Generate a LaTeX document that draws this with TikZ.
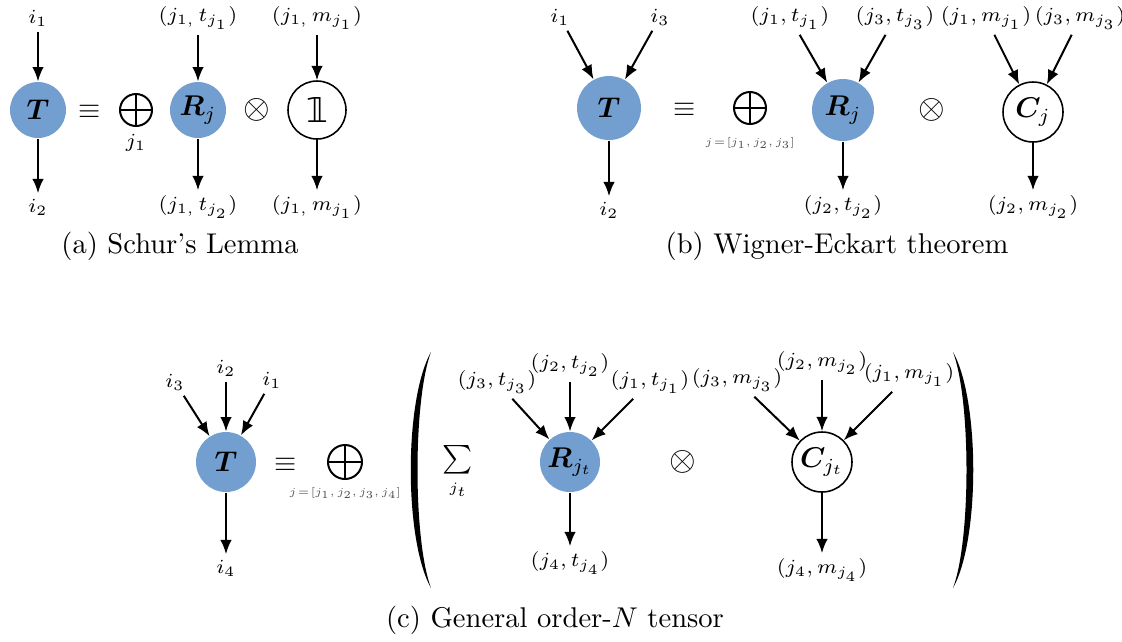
\documentclass[tikz,border=0pt]{standalone}
\usepackage{amsmath,amssymb,bm}
\usepackage{fontspec}
\newfontfamily\dvsans{DejaVu Sans}
\usetikzlibrary{arrows.meta}
\definecolor{blueT}{RGB}{114,159,207}
\tikzset{
  blob/.style={circle, fill=blueT, inner sep=0pt, minimum size=#1},
  wblob/.style={circle, draw, line width=0.55pt, fill=white, inner sep=0pt, minimum size=#1},
  lbl/.style={inner sep=1.8pt, font=\scriptsize},
  tinylbl/.style={inner sep=1pt, font=\tiny, text=black!70},
  arr/.style={-{Latex[length=5pt,width=4pt]}, line width=0.7pt},
  oplusnode/.style={circle, draw, line width=0.7pt, minimum size=#1, inner sep=0pt,
    path picture={\draw[line width=0.7pt] (path picture bounding box.north) -- (path picture bounding box.south)
      (path picture bounding box.west) -- (path picture bounding box.east);}},
  captext/.style={inner sep=0pt, font=\normalsize},
  opnode/.style={inner sep=0pt, font=\large}
}
\begin{document}
\begin{tikzpicture}[x=0.35pt,y=-0.35pt]
\useasboundingbox (0,0) rectangle (1122,641);
% ---------------- panel (a)
\node[lbl] (ia1) at (38,18) {$i_1$};
\node[blob=19.6pt] (Ta) at (38,110) {$\bm{T}$};
\node[lbl] (ia2) at (38,207) {$i_2$};
\node[opnode,font=\normalsize] (eqa) at (90,112) {$\equiv$};
\node[oplusnode=11.2pt] (opa) at (136,110) {};
\node[lbl] (ja1) at (136,143) {$j_1$};
\node[blob=19.6pt] (Ra) at (198,110) {$\bm{R}_j$};
\node[lbl] (rta) at (198,18) {$(j_{1,}\,t_{j_1})$};
\node[lbl] (rba) at (198,207) {$(j_{1,}\,t_{j_2})$};
\node[opnode] (ota) at (257,110) {$\otimes$};
\node[wblob=20.3pt] (Ia) at (317,110) {\dvsans\large 𝟙};
\node[lbl] (ita) at (317,18) {$(j_{1,}\,m_{j_1})$};
\node[lbl] (iba) at (317,207) {$(j_{1,}\,m_{j_1})$};
\node[captext] (capa) at (180,246) {(a) Schur's Lemma};
\draw[arr] (ia1) -- (Ta);
\draw[arr] (Ta) -- (ia2);
\draw[arr] (rta) -- (Ra);
\draw[arr] (Ra) -- (rba);
\draw[arr] (ita) -- (Ia);
\draw[arr] (Ia) -- (iba);
% ---------------- panel (b)
\node[lbl] (ib1) at (560,17) {$i_1$};
\node[lbl] (ib3) at (660,17) {$i_3$};
\node[blob=22.4pt] (Tb) at (609,108) {$\bm{T}$};
\node[lbl] (ib2) at (609,210) {$i_2$};
\node[opnode,font=\normalsize] (eqb) at (685,110) {$\equiv$};
\node[oplusnode=11.2pt] (opb) at (750,108) {};
\node[tinylbl] (jb) at (750,143) {\scalebox{0.75}{$j\!=\![j_1,j_2,j_3]$}};
\node[blob=21.7pt] (Rb) at (843,110) {$\bm{R}_j$};
\node[lbl] (rtb1) at (790,18) {$(j_1,t_{j_1})$};
\node[lbl] (rtb3) at (895,18) {$(j_3,t_{j_3})$};
\node[lbl] (rbb) at (843,207) {$(j_2,t_{j_2})$};
\node[opnode] (otb) at (932,110) {$\otimes$};
\node[wblob=21pt] (Cb) at (1033,112) {$\bm{C}_j$};
\node[lbl] (ctb1) at (986,18) {$(j_1,m_{j_1})$};
\node[lbl] (ctb3) at (1080,18) {$(j_3,m_{j_3})$};
\node[lbl] (cbb) at (1033,207) {$(j_2,m_{j_2})$};
\node[captext] (capb) at (837,246) {(b) Wigner-Eckart theorem};
\draw[arr] (ib1) -- (Tb);
\draw[arr] (ib3) -- (Tb);
\draw[arr] (Tb) -- (ib2);
\draw[arr] (rtb1) -- (Rb);
\draw[arr] (rtb3) -- (Rb);
\draw[arr] (Rb) -- (rbb);
\draw[arr] (ctb1) -- (Cb);
\draw[arr] (ctb3) -- (Cb);
\draw[arr] (Cb) -- (cbb);
% ---------------- panel (c)
\node[lbl] (ic3) at (175,382) {$i_3$};
\node[lbl] (ic2) at (226,368) {$i_2$};
\node[lbl] (ic1) at (272,380) {$i_1$};
\node[blob=21pt] (Tc) at (226,462) {$\bm{T}$};
\node[lbl] (ic4) at (226,568) {$i_4$};
\node[opnode,font=\normalsize] (eqc) at (286,465) {$\equiv$};
\node[oplusnode=11.9pt] (opc) at (345,462) {};
\node[tinylbl] (jc) at (345,493) {\scalebox{0.75}{$j\!=\![j_1,j_2,j_3,j_4]$}};
\fill (431,352) .. controls (404,400) and (404,540) .. (431,588)
      .. controls (413,540) and (413,400) .. (431,352);
\fill (953,352) .. controls (980,400) and (980,540) .. (953,588)
      .. controls (971,540) and (971,400) .. (953,352);
\node[inner sep=0pt] (sumc) at (458,460) {$\textstyle\sum$};
\node[lbl,font=\tiny] (jtc) at (458,490) {$j_t$};
\node[blob=21pt] (Rc) at (570,462) {$\bm{R}_{j_t}$};
\node[lbl] (rtc3) at (497,382) {$(j_3,t_{j_3})$};
\node[lbl] (rtc2) at (570,365) {$(j_2,t_{j_2})$};
\node[lbl] (rtc1) at (650,382) {$(j_1,t_{j_1})$};
\node[lbl] (rbc) at (570,563) {$(j_4,t_{j_4})$};
\node[opnode] (otc) at (683,462) {$\otimes$};
\node[wblob=21pt] (Cc) at (822,462) {$\bm{C}_{j_t}$};
\node[lbl] (ctc3) at (737,380) {$(j_3,m_{j_3})$};
\node[lbl] (ctc2) at (822,363) {$(j_2,m_{j_2})$};
\node[lbl] (ctc1) at (909,375) {$(j_1,m_{j_1})$};
\node[lbl] (cbc) at (822,570) {$(j_4,m_{j_4})$};
\node[captext] (capc) at (555,620) {(c) General order-$N$ tensor};
\draw[arr] (ic3) -- (Tc);
\draw[arr] (ic2) -- (Tc);
\draw[arr] (ic1) -- (Tc);
\draw[arr] (Tc) -- (ic4);
\draw[arr] (rtc3) -- (Rc);
\draw[arr] (rtc2) -- (Rc);
\draw[arr] (rtc1) -- (Rc);
\draw[arr] (Rc) -- (rbc);
\draw[arr] (ctc3) -- (Cc);
\draw[arr] (ctc2) -- (Cc);
\draw[arr] (ctc1) -- (Cc);
\draw[arr] (Cc) -- (cbc);
\end{tikzpicture}
\end{document}
